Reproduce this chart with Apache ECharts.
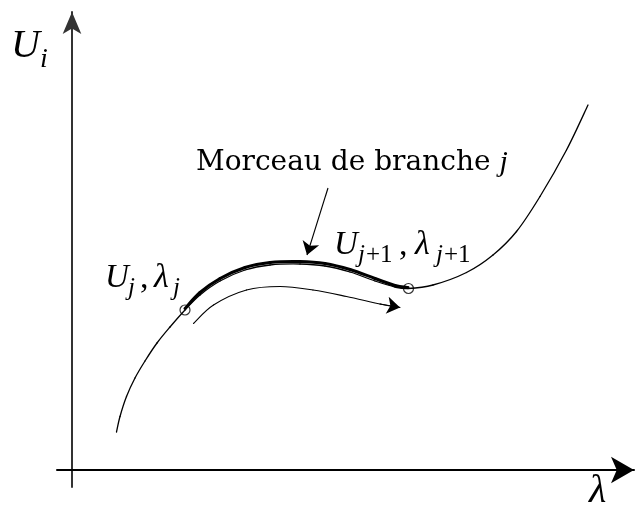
<!DOCTYPE html>
<html>
<head>
<meta charset="utf-8">
<script src="https://cdn.jsdelivr.net/npm/echarts@6/dist/echarts.min.js"></script>
<style>
  html, body { margin: 0; padding: 0; background: #fff; }
  #chart { width: 635px; height: 510px; }
</style>
</head>
<body>
<div id="chart"></div>
<script>
// Axis extents (lambda horizontally, U vertically)
const lambdaRange = [-0.3, 11.24];
const uRange = [-0.34, 9.16];

// Solution branch U(lambda)
const lambdaCurve = [0.89, 0.96, 1.09, 1.26, 1.46, 1.70, 1.96, 2.26, 2.56, 2.96, 3.46, 3.96, 4.56, 5.06, 5.56, 6.06, 6.46, 6.72, 7.22, 7.89, 8.42, 8.89, 9.36, 9.89, 10.32];
const uCurve      = [0.76, 1.07, 1.47, 1.84, 2.18, 2.54, 2.86, 3.20, 3.50, 3.78, 4.00, 4.10, 4.12, 4.08, 3.96, 3.78, 3.66, 3.63, 3.70, 3.95, 4.30, 4.77, 5.47, 6.40, 7.30];

// Highlighted piece of branch j (between the two nodes)
const lambdaPiece = [2.26, 2.56, 2.96, 3.46, 3.96, 4.56, 5.06, 5.56, 6.06, 6.46, 6.72];
const uPiece      = [3.23, 3.55, 3.83, 4.05, 4.15, 4.17, 4.13, 4.01, 3.83, 3.69, 3.65];

// Nodes (U_j, lambda_j) and (U_j+1, lambda_j+1)
const lambdaNodes = [2.26, 6.73];
const uNodes      = [3.20, 3.63];

// Direction of continuation
const lambdaPath = [2.43, 2.83, 3.49, 4.16, 4.82, 5.49, 6.16, 6.56];
const uPath      = [2.93, 3.30, 3.60, 3.67, 3.60, 3.47, 3.32, 3.25];

// Pointer from the caption to the piece of branch
const lambdaPointer = [5.12, 4.70];
const uPointer      = [5.64, 4.30];

const zip = (xs, ys) => xs.map((x, i) => [x, ys[i]]);

// Smooth curve through the given points (Catmull-Rom, drawn as cubic Bezier pieces
// placed with the grid's own coordinate conversion).
function smoothCurve(name, xs, ys, width) {
  return {
    type: 'custom', name: name, coordinateSystem: 'cartesian2d',
    silent: true, clip: false,
    data: [[xs[0], ys[0]]],
    renderItem: function (params, api) {
      const p = xs.map((x, i) => api.coord([x, ys[i]]));
      const children = [];
      for (let i = 0; i < p.length - 1; i++) {
        const p0 = p[Math.max(i - 1, 0)], p1 = p[i], p2 = p[i + 1], p3 = p[Math.min(i + 2, p.length - 1)];
        children.push({
          type: 'bezierCurve',
          shape: {
            x1: p1[0], y1: p1[1], x2: p2[0], y2: p2[1],
            cpx1: p1[0] + (p2[0] - p0[0]) / 6, cpy1: p1[1] + (p2[1] - p0[1]) / 6,
            cpx2: p2[0] - (p3[0] - p1[0]) / 6, cpy2: p2[1] - (p3[1] - p1[1]) / 6
          },
          style: { stroke: '#000', fill: null, lineWidth: width, lineCap: 'round' }
        });
      }
      return { type: 'group', children: children };
    }
  };
}

const MATH = '"Liberation Serif"';
const ROMAN = '"DejaVu Serif"';
const mathText = (txt, x, y, size, italic) => ({
  type: 'text', x: x, y: y, silent: true,
  style: {
    text: txt,
    font: (italic ? 'italic ' : '') + size + 'px ' + MATH,
    fill: '#000',
    align: 'left',
    verticalAlign: 'middle'
  }
});

const chart = echarts.init(document.getElementById('chart'), null, { renderer: 'canvas' });

const pathPts = zip(lambdaPath, uPath);
const n = pathPts.length;

chart.setOption({
  animation: false,
  backgroundColor: '#fff',
  grid: { left: 57, right: 1, top: 12, bottom: 23 },
  xAxis: {
    type: 'value', min: lambdaRange[0], max: lambdaRange[1],
    axisLine: { show: true, onZero: true, symbol: ['none', 'arrow'], symbolSize: [20, 23],
                lineStyle: { color: '#000', width: 2 } },
    axisTick: { show: false }, axisLabel: { show: false }, splitLine: { show: false }
  },
  yAxis: {
    type: 'value', min: uRange[0], max: uRange[1],
    axisLine: { show: true, onZero: true, symbol: ['none', 'arrow'], symbolSize: [14, 22],
                lineStyle: { color: '#333', width: 2 } },
    axisTick: { show: false }, axisLabel: { show: false }, splitLine: { show: false }
  },
  series: [
    smoothCurve('branche', lambdaCurve, uCurve, 1.3),
    smoothCurve('morceau', lambdaPiece, uPiece, 3),
    smoothCurve('direction', lambdaPath, uPath, 1.1),
    {
      type: 'lines', coordinateSystem: 'cartesian2d', silent: true,
      symbol: ['none', 'arrow'], symbolSize: [8, 13],
      lineStyle: { color: '#000', width: 1.1, opacity: 1 },
      data: [
        { coords: [pathPts[n - 2], pathPts[n - 1]] },
        { coords: zip(lambdaPointer, uPointer) }
      ]
    },
    {
      type: 'scatter', name: 'noeuds', data: zip(lambdaNodes, uNodes),
      symbol: 'circle', symbolSize: 10, silent: true, z: 5,
      itemStyle: { color: 'rgba(255,255,255,0)', borderColor: '#000', borderWidth: 1.2 }
    }
  ],
  graphic: [
    // axis names
    mathText('U', 11, 46, 40, true),
    mathText('i', 40, 60, 28, true),
    mathText('λ', 589, 491, 40, true),
    // caption
    {
      type: 'text', x: 196, y: 163, silent: true,
      style: {
        text: '{r|Morceau de branche }{m|j}',
        rich: {
          r: { font: '28px ' + ROMAN, fill: '#000' },
          m: { font: 'italic 30px ' + MATH, fill: '#000' }
        },
        align: 'left', verticalAlign: 'middle'
      }
    },
    // U_j, lambda_j
    mathText('U', 105, 278, 33, true),
    mathText('j', 128, 288, 25, true),
    mathText(',', 140, 279, 34, false),
    mathText('λ', 154, 278, 34, true),
    mathText('j', 173, 288, 25, true),
    // U_j+1, lambda_j+1
    mathText('U', 334, 245, 33, true),
    mathText('j', 358, 255, 25, true),
    mathText('+1', 366, 255, 25, false),
    mathText(',', 399, 246, 34, false),
    mathText('λ', 415, 245, 34, true),
    mathText('j', 436, 255, 25, true),
    mathText('+1', 444, 255, 25, false)
  ]
});
</script>
</body>
</html>
